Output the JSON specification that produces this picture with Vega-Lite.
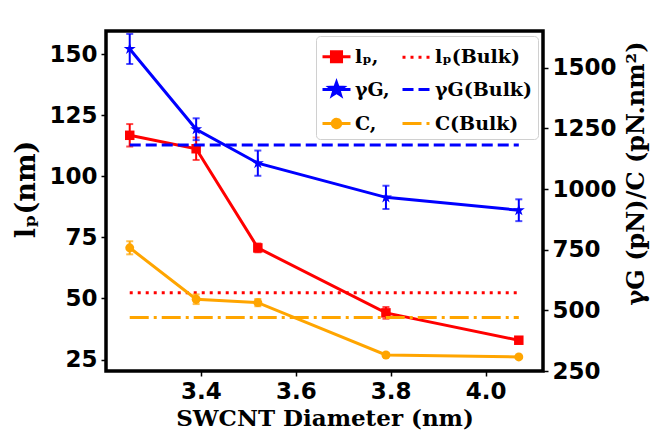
{
  "$schema": "https://vega.github.io/schema/vega-lite/v6.json",
  "width": 437,
  "height": 340,
  "autosize": {"type": "none"},
  "padding": {"left": 106, "top": 31, "right": 111, "bottom": 61},
  "background": "white",
  "config": {
    "view": {"stroke": "black", "strokeWidth": 3.5},
    "axis": {
      "grid": false,
      "domain": false,
      "tickColor": "black",
      "tickWidth": 1.5,
      "tickSize": 5,
      "labelFont": "DejaVu Sans",
      "labelFontWeight": "bold",
      "labelFontSize": 23,
      "labelColor": "black",
      "labelPadding": 4,
      "titleColor": "black",
      "titleFont": "DejaVu Serif",
      "titleFontWeight": "bold"
    }
  },
  "datasets": {
    "pts": [
      {"d": 3.25, "key": "lp", "v": 116.8, "e": 4.6},
      {"d": 3.39, "key": "lp", "v": 111.3, "e": 4.6},
      {"d": 3.52, "key": "lp", "v": 70.7, "e": 1.8},
      {"d": 3.79, "key": "lp", "v": 44.1, "e": 2.4},
      {"d": 4.07, "key": "lp", "v": 32.9, "e": 1.0},
      {"d": 3.25, "key": "gG", "v": 1578, "e": 62},
      {"d": 3.39, "key": "gG", "v": 1247, "e": 45},
      {"d": 3.52, "key": "gG", "v": 1107, "e": 52},
      {"d": 3.79, "key": "gG", "v": 966, "e": 48},
      {"d": 4.07, "key": "gG", "v": 913, "e": 45},
      {"d": 3.25, "key": "C", "v": 758, "e": 27},
      {"d": 3.39, "key": "C", "v": 546, "e": 20},
      {"d": 3.52, "key": "C", "v": 532, "e": 15},
      {"d": 3.79, "key": "C", "v": 316, "e": 8},
      {"d": 4.07, "key": "C", "v": 308, "e": 5}
    ],
    "bulk": [
      {"d": 3.25, "key": "lpb", "v": 52.3},
      {"d": 4.07, "key": "lpb", "v": 52.3},
      {"d": 3.25, "key": "gGb", "v": 1182},
      {"d": 4.07, "key": "gGb", "v": 1182},
      {"d": 3.25, "key": "Cb", "v": 471},
      {"d": 4.07, "key": "Cb", "v": 471}
    ]
  },
  "encoding": {
    "x": {
      "field": "d",
      "type": "quantitative",
      "scale": {"domain": [3.2, 4.121], "nice": false, "zero": false},
      "axis": {
        "values": [3.4, 3.6, 3.8, 4.0],
        "format": ".1f",
        "title": "SWCNT Diameter (nm)",
        "titleFontSize": 23,
        "titlePadding": 4
      }
    }
  },
  "layer": [
    {
      "encoding": {
        "y": {
          "field": "v",
          "type": "quantitative",
          "scale": {"domain": [20.3, 159.5], "nice": false, "zero": false},
          "axis": {
            "orient": "left",
            "values": [25, 50, 75, 100, 125, 150],
            "title": "lₚ(nm)",
            "titleFontSize": 27,
            "titlePadding": 8,
            "titleY": 158
          }
        }
      },
      "layer": [
        {
          "data": {"name": "bulk"},
          "transform": [{"filter": "datum.key == 'lpb'"}],
          "mark": {"type": "line", "strokeWidth": 3, "strokeCap": "butt"},
          "encoding": {
            "color": {
              "field": "key",
              "type": "nominal",
              "scale": {"domain": ["lp", "lpb", "gG", "gGb", "C", "Cb"], "range": ["#ff0000", "#ff0000", "#0000ff", "#0000ff", "#ffa500", "#ffa500"]},
              "legend": {
                "orient": "top-right",
                "direction": "horizontal",
                "columns": 2,
                "title": null,
                "offset": 5,
                "padding": 5,
                "fillColor": "white",
                "strokeColor": "#d0d0d0",
                "cornerRadius": 4,
                "labelFont": "DejaVu Serif",
                "labelFontWeight": "bold",
                "labelFontSize": 19,
                "labelColor": "black",
                "labelLimit": 0,
                "labelOffset": 3,
                "symbolSize": 784,
                "columnPadding": 6,
                "rowPadding": 6,
                "labelExpr": "datum.value == 'lp' ? 'lₚ,' : datum.value == 'lpb' ? 'lₚ(Bulk)' : datum.value == 'gG' ? 'γG,' : datum.value == 'gGb' ? 'γG(Bulk)' : datum.value == 'C' ? 'C,' : 'C(Bulk)'",
                "encode": {
                  "symbols": {
                    "update": {
                      "shape": {"signal": "datum.value == 'lp' ? 'M-1,0H1M-0.36,-0.36H0.36V0.36H-0.36Z' : datum.value == 'gG' ? 'M-1,0H1M0,-0.5L0.1176,-0.1618L0.4755,-0.1545L0.1902,0.0618L0.2939,0.4045L0,0.2L-0.2939,0.4045L-0.1902,0.0618L-0.4755,-0.1545L-0.1176,-0.1618Z' : datum.value == 'C' ? 'M-1,0H1M0.3,0A0.3,0.3,0,1,1,-0.3,0A0.3,0.3,0,1,1,0.3,0Z' : 'stroke'"},
                      "stroke": {"signal": "(datum.value == 'lp' || datum.value == 'lpb') ? '#ff0000' : (datum.value == 'gG' || datum.value == 'gGb') ? '#0000ff' : '#ffa500'"},
                      "fill": {"signal": "(datum.value == 'lp' || datum.value == 'lpb') ? '#ff0000' : (datum.value == 'gG' || datum.value == 'gGb') ? '#0000ff' : '#ffa500'"},
                      "strokeDash": {"signal": "datum.value == 'lpb' ? [3, 5] : datum.value == 'gGb' ? [11, 5] : datum.value == 'Cb' ? [19, 5, 3, 5] : [1, 0]"},
                      "strokeWidth": {"value": 3},
                      "size": {"value": 784},
                      "opacity": {"value": 1}
                    }
                  }
                }
              }
            },
            "strokeDash": {
              "field": "key",
              "type": "nominal",
              "scale": {"domain": ["lp", "lpb", "gG", "gGb", "C", "Cb"], "range": [[1, 0], [3, 5], [1, 0], [11, 5], [1, 0], [19, 5, 3, 5]]},
              "legend": null
            }
          }
        },
        {
          "data": {"name": "pts"},
          "transform": [{"filter": "datum.key == 'lp'"}],
          "mark": {"type": "errorbar", "ticks": {"size": 7, "thickness": 2}, "thickness": 2, "color": "#ff0000"},
          "encoding": {"yError": {"field": "e"}}
        },
        {
          "data": {"name": "pts"},
          "transform": [{"filter": "datum.key == 'lp'"}],
          "mark": {"type": "line", "strokeWidth": 3, "color": "#ff0000"},
          "encoding": {}
        },
        {
          "data": {"name": "pts"},
          "transform": [{"filter": "datum.key == 'lp'"}],
          "mark": {"type": "point", "shape": "square", "filled": true, "size": 90, "opacity": 1, "color": "#ff0000"},
          "encoding": {}
        }
      ]
    },
    {
      "encoding": {
        "y": {
          "field": "v",
          "type": "quantitative",
          "scale": {"domain": [250, 1652], "nice": false, "zero": false},
          "axis": {
            "orient": "right",
            "values": [250, 500, 750, 1000, 1250, 1500],
            "format": "d",
            "title": "γG (pN)/C (pN.nm²)",
            "titleAngle": -90,
            "titleBaseline": "top",
            "titleFontSize": 24,
            "titlePadding": 8,
            "titleY": 142
          }
        }
      },
      "layer": [
        {
          "data": {"name": "bulk"},
          "transform": [{"filter": "datum.key != 'lpb'"}],
          "mark": {"type": "line", "strokeWidth": 3, "strokeCap": "butt"},
          "encoding": {
            "color": {
              "field": "key",
              "type": "nominal",
              "scale": {"domain": ["lp", "lpb", "gG", "gGb", "C", "Cb"], "range": ["#ff0000", "#ff0000", "#0000ff", "#0000ff", "#ffa500", "#ffa500"]}
            },
            "strokeDash": {
              "field": "key",
              "type": "nominal",
              "scale": {"domain": ["lp", "lpb", "gG", "gGb", "C", "Cb"], "range": [[1, 0], [3, 5], [1, 0], [11, 5], [1, 0], [19, 5, 3, 5]]},
              "legend": null
            }
          }
        },
        {
          "data": {"name": "pts"},
          "transform": [{"filter": "datum.key == 'gG'"}],
          "mark": {"type": "errorbar", "ticks": {"size": 7, "thickness": 2}, "thickness": 2, "color": "#0000ff"},
          "encoding": {"yError": {"field": "e"}}
        },
        {
          "data": {"name": "pts"},
          "transform": [{"filter": "datum.key == 'C'"}],
          "mark": {"type": "errorbar", "ticks": {"size": 7, "thickness": 2}, "thickness": 2, "color": "#ffa500"},
          "encoding": {"yError": {"field": "e"}}
        },
        {
          "data": {"name": "pts"},
          "transform": [{"filter": "datum.key == 'gG'"}],
          "mark": {"type": "line", "strokeWidth": 3, "color": "#0000ff"},
          "encoding": {}
        },
        {
          "data": {"name": "pts"},
          "transform": [{"filter": "datum.key == 'C'"}],
          "mark": {"type": "line", "strokeWidth": 3, "color": "#ffa500"},
          "encoding": {}
        },
        {
          "data": {"name": "pts"},
          "transform": [{"filter": "datum.key == 'gG'"}],
          "mark": {"type": "point", "shape": "M0,-1L0.2245,-0.309L0.9511,-0.309L0.3633,0.118L0.5878,0.809L0,0.382L-0.5878,0.809L-0.3633,0.118L-0.9511,-0.309L-0.2245,-0.309Z", "filled": true, "size": 160, "opacity": 1, "color": "#0000ff"},
          "encoding": {}
        },
        {
          "data": {"name": "pts"},
          "transform": [{"filter": "datum.key == 'C'"}],
          "mark": {"type": "point", "shape": "circle", "filled": true, "size": 80, "opacity": 1, "color": "#ffa500"},
          "encoding": {}
        }
      ]
    }
  ],
  "resolve": {"scale": {"y": "independent"}}
}
